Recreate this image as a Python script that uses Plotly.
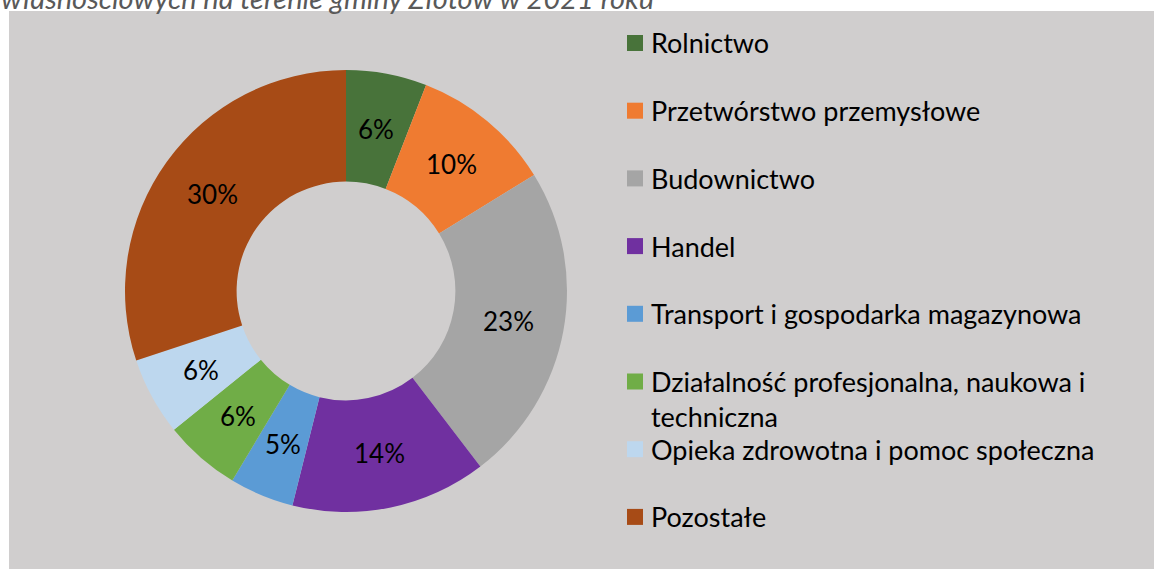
import math
import plotly.graph_objects as go

# ---- data ----
categories = [
    "Rolnictwo",
    "Przetwórstwo przemysłowe",
    "Budownictwo",
    "Handel",
    "Transport i gospodarka magazynowa",
    "Działalność profesjonalna, naukowa i techniczna",
    "Opieka zdrowotna i pomoc społeczna",
    "Pozostałe",
]
shares = [5.9, 10.3, 23.4, 14.3, 4.7, 5.6, 5.7, 30.1]
colors = ["#48733a", "#ef7b31", "#a5a5a5", "#7030a0",
          "#5b9bd5", "#70ad47", "#bdd7ee", "#a74b16"]
title_text = "własnościowych na terenie gminy Złotów w 2021 roku"

# ---- layout constants (pixels) ----
W, H = 1154, 569
FONT = "Lato"
CX, CY, R_OUT = 346, 291, 221
HOLE = 0.495
LEG_X_SW, LEG_X_TXT, LEG_Y0, LEG_DY = 627, 650, 43, 67.7
TXT = 26
LEG_TXT = 27

fig = go.Figure(go.Pie(
    labels=categories,
    values=shares,
    hole=HOLE,
    sort=False,
    direction="clockwise",
    rotation=0,
    marker=dict(colors=colors, line=dict(width=0)),
    textinfo="none",
    hovertemplate="%{label}: %{percent:.0%}<extra></extra>",
    showlegend=False,
    domain=dict(x=[(CX - R_OUT) / W, (CX + R_OUT) / W],
                y=[1 - (CY + R_OUT) / H, 1 - (CY - R_OUT) / H]),
))

annotations = []
shapes = [dict(
    type="rect", xref="paper", yref="paper",
    x0=9 / W, x1=1, y0=0, y1=1 - 11 / H,
    fillcolor="#d0cece", line=dict(width=0), layer="below",
)]

# percentage labels at the middle of each ring segment
total = sum(shares)
r_mid = R_OUT * (1 + HOLE) / 2
cum = 0.0
for v in shares:
    mid = (cum + v / 2) / total * 2 * math.pi
    cum += v
    px = CX + r_mid * math.sin(mid)
    py = CY - r_mid * math.cos(mid)
    annotations.append(dict(
        text=f"{round(v / total * 100)}%",
        xref="paper", yref="paper", x=px / W, y=1 - py / H,
        xanchor="center", yanchor="middle", showarrow=False,
        font=dict(family=FONT, size=TXT, color="#000000"),
    ))

# legend (Excel-style spacing)
for i, (name, col) in enumerate(zip(categories, colors)):
    yc = LEG_Y0 + i * LEG_DY
    label = name
    if name.startswith("Działalność"):
        label = "Działalność profesjonalna, naukowa i<br>techniczna"
    shapes.append(dict(
        type="rect", xref="paper", yref="paper",
        x0=LEG_X_SW / W, x1=(LEG_X_SW + 16) / W,
        y0=1 - (yc + 8) / H, y1=1 - (yc - 8) / H,
        fillcolor=col, line=dict(width=0),
    ))
    annotations.append(dict(
        text=label, xref="paper", yref="paper",
        x=LEG_X_TXT / W, y=1 - yc / H, yshift=LEG_TXT * 0.65,
        xanchor="left", yanchor="top", align="left",
        showarrow=False, borderpad=0,
        font=dict(family=FONT, size=LEG_TXT, color="#000000"),
    ))

# cropped title line at the very top
annotations.append(dict(
    text=f"<i>{title_text}</i>",
    xref="paper", yref="paper", x=0, y=1,
    xanchor="left", yanchor="bottom", yshift=-16,
    showarrow=False, borderpad=0,
    font=dict(family=FONT, size=29, color="#595959"),
))

fig.update_layout(
    width=W, height=H,
    margin=dict(l=0, r=0, t=0, b=0),
    paper_bgcolor="#ffffff",
    plot_bgcolor="#ffffff",
    font=dict(family=FONT, color="#000000"),
    showlegend=False,
    shapes=shapes,
    annotations=annotations,
)

fig.write_html(
    "out.html",
    config={"displayModeBar": False},
    post_script="document.body.style.margin='0';document.body.style.overflow='hidden';",
)
